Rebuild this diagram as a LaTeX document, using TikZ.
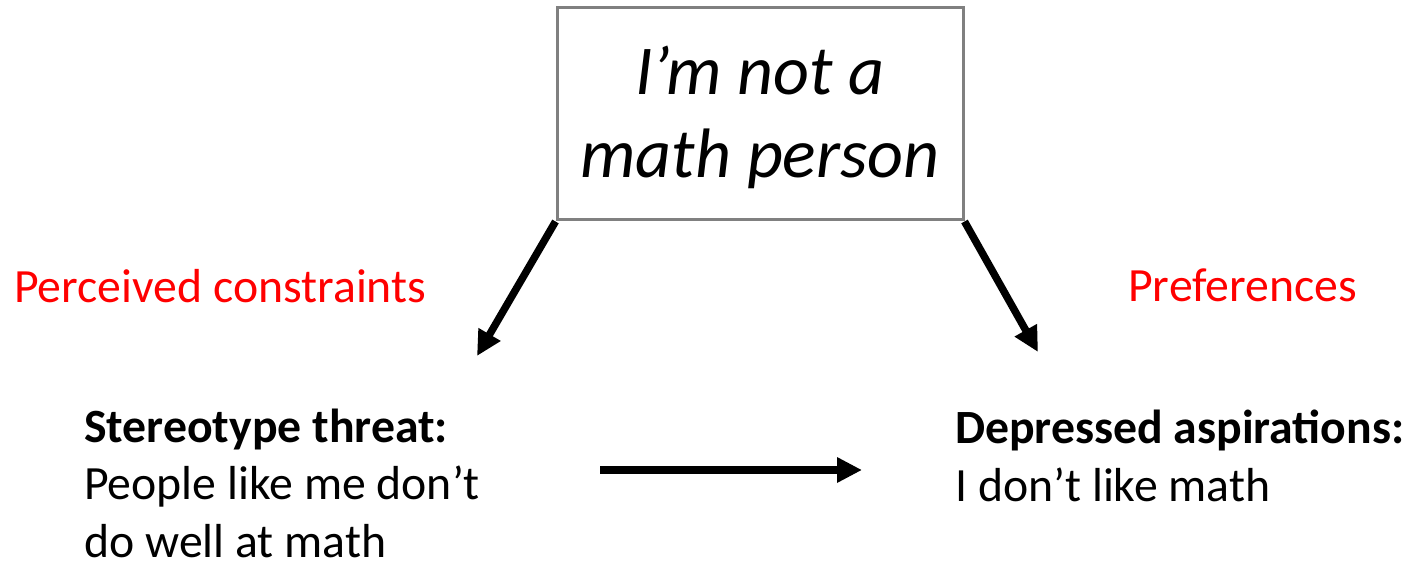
\documentclass[tikz,border=0pt]{standalone}
\usepackage{fontspec}
\setmainfont{Carlito}
\usetikzlibrary{arrows.meta}
\begin{document}
\begin{tikzpicture}[x=0.75pt,y=-0.75pt,
  boxstyle/.style={draw=black!50,line width=2.25pt,minimum width=304.5pt,minimum height=159pt,inner sep=0pt},
  boxtext/.style={align=center,anchor=base,inner sep=0pt,font=\fontsize{52.5}{62.25}\selectfont\itshape},
  redlabel/.style={text=red,font=\fontsize{35.8}{42.8}\selectfont,anchor=base west,inner sep=0pt},
  bodytext/.style={font=\fontsize{35.8}{43.1}\selectfont,anchor=base west,align=left,inner sep=0pt},
  bigarrow/.style={line width=5.6pt,-{Triangle[length=18.75pt,width=18pt]}}]
\useasboundingbox (0,0) rectangle (1412,566);
\node[boxstyle] (box) at (760,114) {};
\node[boxtext] (boxt) at (760,178) {I’m not a\\math person};
\node[redlabel] (pc) at (14,303) {Perceived constraints};
\node[redlabel] (pref) at (1128,301) {Preferences};
\node[bodytext] (st) at (84,557) {\textbf{Stereotype threat:}\\People like me don’t\\do well at math};
\node[bodytext] (da) at (955,501) {\textbf{Depressed aspirations:}\\I don’t like math};
\coordinate (lend) at (477,356);
\coordinate (rend) at (1038,352);
\coordinate (hs) at (600,470);
\coordinate (he) at (862,470);
\draw[bigarrow] (box.south west) -- (lend);
\draw[bigarrow] (box.south east) -- (rend);
\draw[bigarrow] (hs) -- (he);
\end{tikzpicture}
\end{document}
